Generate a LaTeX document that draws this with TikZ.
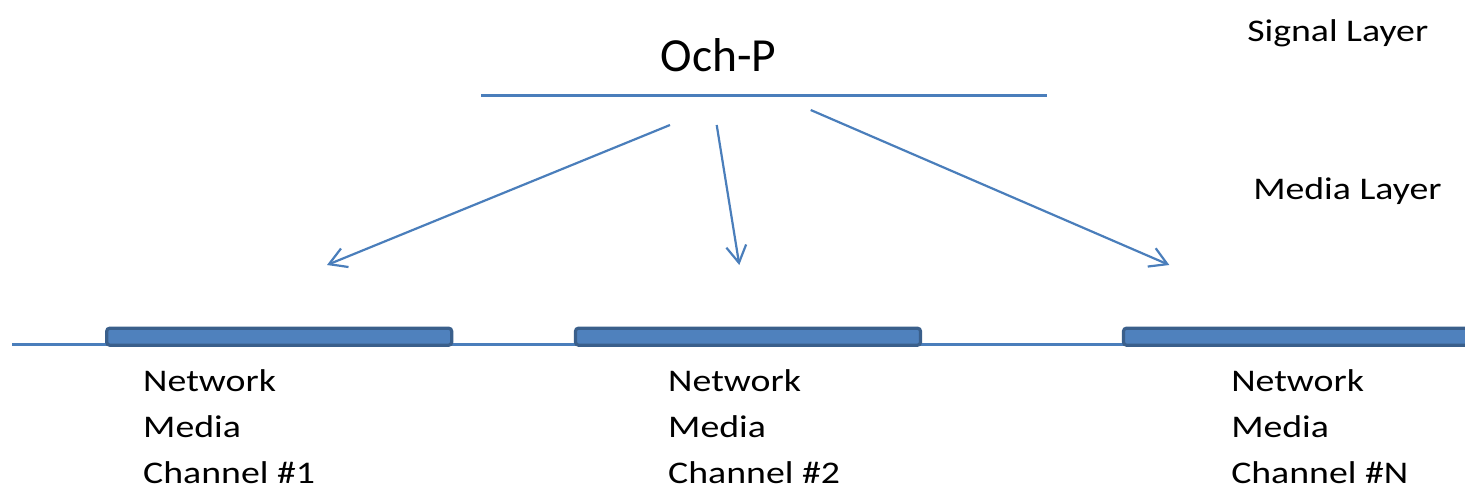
\documentclass[tikz,border=0pt]{standalone}
\usepackage{fontspec}
\setmainfont{Carlito}
\usetikzlibrary{arrows.meta}

\definecolor{linkblue}{HTML}{4A7EBB}
\definecolor{barfill}{HTML}{4F81BD}
\definecolor{baredge}{HTML}{3A5F8B}

\tikzset{
  conn/.style={draw=linkblue, line width=2.2pt,
    -{Straight Barb[length=17pt, width=20pt, line width=2.2pt]}},
  rail/.style={draw=linkblue, line width=2.5pt},
  chbar/.style={draw=baredge, fill=barfill, line width=3.2pt,
    rounded corners=3pt, minimum height=17pt, inner sep=0pt},
  lbl/.style={inner sep=0pt, anchor=base west, xscale=1.2,
    font=\fontsize{31.5}{38}\selectfont},
  title/.style={inner sep=0pt, anchor=base,
    font=\fontsize{47.5}{56}\selectfont}
}

\begin{document}
\begin{tikzpicture}[x=1pt, y=-1pt]
  \useasboundingbox (0,0) rectangle (1465,492);

  % signal layer: Och-P over its rail
  \node[title] (och) at (718.7,71.7) {Och-P};
  \draw[draw=linkblue, line width=3pt] (481,95.5) coordinate (ochL) -- (1046.5,95.5) coordinate (ochR);

  % layer captions
  \node[lbl] (sig) at (1247,41.7) {Signal Layer};
  \node[lbl] (med) at (1253,200) {Media Layer};

  % media rail with three channel bars
  \draw[rail] (12,344.3) coordinate (railL) -- (1470,344.3) coordinate (railR);
  \node[chbar, minimum width=345pt] (ch1) at (279.2,336.7) {};
  \node[chbar, minimum width=345pt] (ch2) at (748.0,336.7) {};
  \node[chbar, minimum width=360pt] (ch3) at (1303.5,336.7) {};

  % arrows from Och-P down to the channels
  \coordinate (s1) at (670,125);   \coordinate (t1) at (327,265);
  \coordinate (s2) at (716.7,125); \coordinate (t2) at (739.3,265);
  \coordinate (s3) at (810.7,110); \coordinate (t3) at (1169.3,265);
  \draw[conn] (s1) -- (t1);
  \draw[conn] (s2) -- (t2);
  \draw[conn] (s3) -- (t3);

  % channel captions
  \node[lbl] (c1a) at (143,391) {Network};
  \node[lbl] (c1b) at (143,437) {Media};
  \node[lbl] (c1c) at (143,483) {Channel \#1};
  \node[lbl] (c2a) at (668,391) {Network};
  \node[lbl] (c2b) at (668,437) {Media};
  \node[lbl] (c2c) at (668,483) {Channel \#2};
  \node[lbl] (c3a) at (1231,391) {Network};
  \node[lbl] (c3b) at (1231,437) {Media};
  \node[lbl] (c3c) at (1231,483) {Channel \#N};
\end{tikzpicture}
\end{document}
